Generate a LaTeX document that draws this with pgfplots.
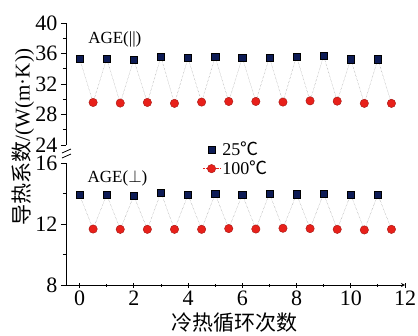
\documentclass[border=0pt]{standalone}
\usepackage{pgfplots}
\pgfplotsset{compat=1.18}
\usepackage{fontspec}
\setmainfont{Liberation Serif}
\newfontfamily\cjk{Noto Sans CJK SC}
\definecolor{navy}{HTML}{0D1B55}
\definecolor{ballred}{HTML}{E8201A}
\definecolor{zig}{HTML}{8A8A8A}
\pgfplotstableread{
x y
0 35.33
1 35.33
2 35.20
3 35.58
4 35.41
5 35.54
6 35.46
7 35.50
8 35.63
9 35.71
10 35.25
11 35.25
}\topblue
\pgfplotstableread{
x y
0.5 29.58
1.5 29.50
2.5 29.58
3.5 29.46
4.5 29.63
5.5 29.71
6.5 29.71
7.5 29.63
8.5 29.79
9.5 29.75
10.5 29.46
11.5 29.46
}\topred
\pgfplotstableread{
x y
0 13.91
1 13.93
2 13.85
3 14.07
4 13.91
5 13.98
6 13.93
7 13.98
8 13.96
9 14.00
10 13.93
11 13.93
}\botblue
\pgfplotstableread{
x y
0.5 11.67
1.5 11.65
2.5 11.65
3.5 11.65
4.5 11.65
5.5 11.70
6.5 11.67
7.5 11.72
8.5 11.70
9.5 11.65
10.5 11.61
11.5 11.65
}\botred
\pgfplotsset{
  common/.style={
    scale only axis, width=339pt, xmin=-0.5, xmax=12,
    axis y line=left, axis line style={-, thick, black},
    tick align=outside, major tick length=5pt, minor tick length=3pt,
    every tick/.style={black, thick},
    tick label style={font=\fontsize{22}{24}\selectfont},
    /pgf/number format/assume math mode=true,
    minor y tick num=1, clip=false,
  },
  bmark/.style={only marks, mark=square*, mark size=3.6pt, mark options={fill=navy, draw=black, thin}},
  rmark/.style={only marks, mark=*, mark size=4.2pt, mark options={fill=ballred, draw=ballred!70!black, thin}},
}
\begin{document}
\begin{tikzpicture}
\useasboundingbox (-66pt,-50pt) rectangle (352pt,285pt);
% bottom axis
\begin{axis}[common, at={(0pt,0pt)}, height=122pt,
  axis x line=bottom, ymin=8, ymax=16, ytick={8,12,16},
  xtick={0,2,...,12}, minor x tick num=1,
  legend style={draw=none, fill=none, at={(0.40,1.20)}, anchor=north west,
    font=\fontsize{18}{20}\selectfont, row sep=0pt, inner sep=1pt},
  legend cell align=left,
]
\addlegendimage{only marks, mark=square*, mark size=3.6pt, mark options={fill=navy, draw=black, thin}}
\addlegendentry{25{\cjk ℃}}
\addlegendimage{ballred, densely dotted, thin, mark=*, mark size=4.2pt, mark options={solid, fill=ballred, draw=ballred!70!black}}
\addlegendentry{100{\cjk ℃}}
\addplot[zig, densely dotted, forget plot] coordinates {
(0,13.91)(0.5,11.67)(1,13.93)(1.5,11.65)(2,13.85)(2.5,11.65)(3,14.07)(3.5,11.65)(4,13.91)(4.5,11.65)(5,13.98)(5.5,11.70)(6,13.93)(6.5,11.67)(7,13.98)(7.5,11.72)(8,13.96)(8.5,11.70)(9,14.00)(9.5,11.65)(10,13.93)(10.5,11.61)(11,13.93)(11.5,11.65)};
\addplot[bmark, forget plot] table {\botblue};
\addplot[rmark, forget plot] table {\botred};
\node[font=\fontsize{17}{19}\selectfont] at (axis cs:1.4,15.0) {AGE($\perp$)};
\end{axis}
% top axis
\begin{axis}[common, at={(0pt,140pt)}, height=122pt,
  axis x line=none, ymin=24, ymax=40, ytick={24,28,...,40},
]
\addplot[zig, densely dotted] coordinates {
(0,35.33)(0.5,29.58)(1,35.33)(1.5,29.50)(2,35.20)(2.5,29.58)(3,35.58)(3.5,29.46)(4,35.41)(4.5,29.63)(5,35.54)(5.5,29.71)(6,35.46)(6.5,29.71)(7,35.50)(7.5,29.63)(8,35.63)(8.5,29.79)(9,35.71)(9.5,29.75)(10,35.25)(10.5,29.46)(11,35.25)(11.5,29.46)};
\addplot[bmark] table {\topblue};
\addplot[rmark] table {\topred};
\node[font=\fontsize{17}{19}\selectfont] at (axis cs:1.3,37.9) {AGE(||)};
\end{axis}
% break marks
\draw[thick] (-4pt,132pt) -- (5pt,136pt);
\draw[thick] (-4pt,127pt) -- (5pt,131pt);
% axis labels
\node[font=\fontsize{21}{24}\selectfont, rotate=90] at (-43pt,148pt) {{\cjk 导热系数}/(W(m·K))};
\node[font=\fontsize{21}{24}\selectfont] at (169pt,-38pt) {\cjk 冷热循环次数};
\end{tikzpicture}
\end{document}
